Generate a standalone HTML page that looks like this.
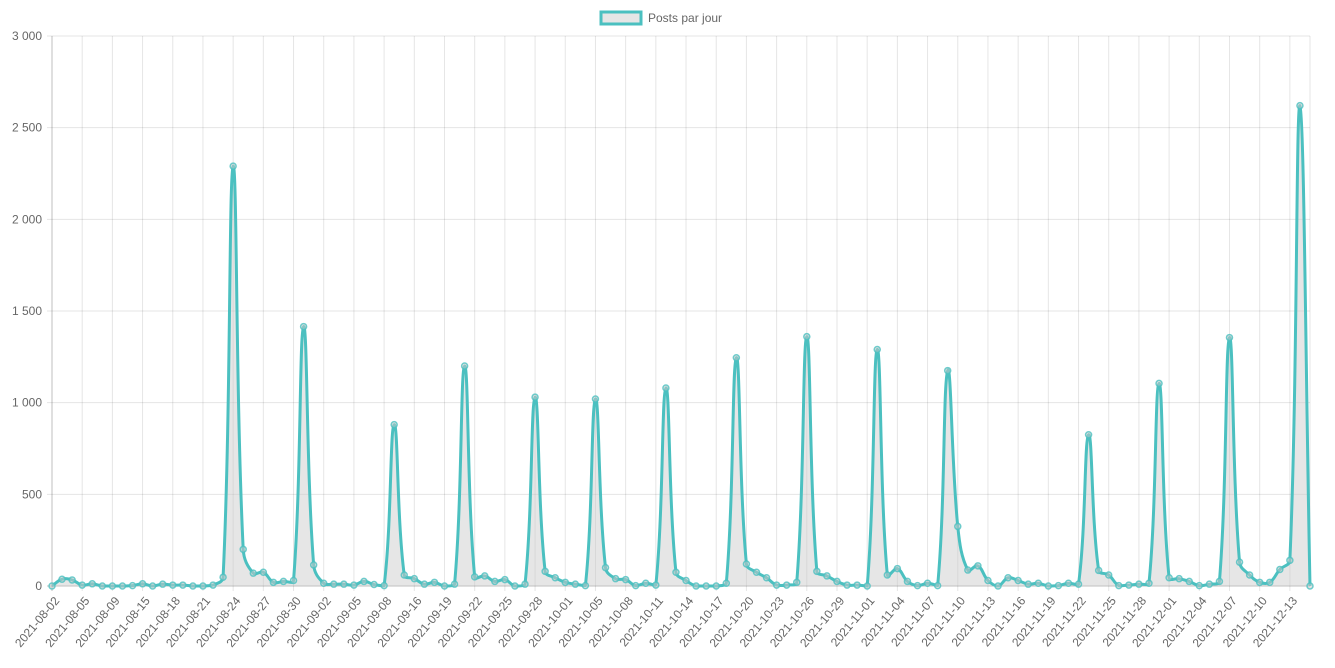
<!DOCTYPE html>
<html><head><meta charset="utf-8"><style>
html,body{margin:0;padding:0;background:#fff;}
svg{display:block;font-family:"Liberation Sans",Arial,sans-serif;}
</style></head><body>
<svg id="c" width="1335" height="668" xmlns="http://www.w3.org/2000/svg">
<rect x="601" y="12" width="40" height="12" fill="#e6e6e6" stroke="rgb(75,192,192)" stroke-width="3"/>
<text x="648" y="22" font-size="12" fill="#666">Posts par jour</text>
<g id="grid"></g>
<path id="area" fill="rgba(200,200,200,0.45)" stroke="none"/>
<path id="line" fill="none" stroke="rgb(75,192,192)" stroke-width="3"/>
<g id="pts"></g>
<g id="lbl"></g>
</svg>
<script>
var v=[0,37,33,5,12,0,0,0,2,12,0,10,5,5,0,0,5,48,2290,200,70,75,20,25,30,1415,115,15,10,10,5,25,8,2,880,60,40,10,20,0,10,1200,50,55,25,35,0,10,1030,80,45,20,10,2,1020,100,40,35,2,15,5,1080,75,30,0,0,0,15,1245,120,75,45,5,5,20,1360,80,55,25,5,5,0,1290,60,95,25,2,15,2,1175,325,87,110,30,0,45,30,10,15,0,2,15,10,825,85,60,2,5,10,15,1105,45,40,25,2,10,25,1355,130,60,20,20,90,140,2620,0];
var d=["08-02","08-05","08-09","08-15","08-18","08-21","08-24","08-27","08-30","09-02","09-05","09-08","09-16","09-19","09-22","09-25","09-28","10-01","10-05","10-08","10-11","10-14","10-17","10-20","10-23","10-26","10-29","11-01","11-04","11-07","11-10","11-13","11-16","11-19","11-22","11-25","11-28","12-01","12-04","12-07","12-10","12-13"];
var X0=52,DX=10.064,Y0=586,S=550/3000,ns="http://www.w3.org/2000/svg";
function el(t,a,p){var e=document.createElementNS(ns,t);for(var k in a)e.setAttribute(k,a[k]);p.appendChild(e);return e;}
var g=document.getElementById('grid'),l=document.getElementById('lbl');
for(var i=0;i<=6;i++){var y=Y0-i*500*S;el('line',{x1:X0-5,x2:1310,y1:y,y2:y,stroke:i==0?'rgba(0,0,0,0.25)':'rgba(0,0,0,0.1)'},g);
var t=el('text',{x:42,y:y+4,'text-anchor':'end','font-size':12,fill:'#666'},l);t.textContent=i==0?'0':(i*500).toString().replace(/(\d)(\d{3})$/,'$1 $2');}
for(var j=0;j<42;j++){var x=X0+j*3*DX;el('line',{x1:x,x2:x,y1:36,y2:Y0+5,stroke:j==0?'rgba(0,0,0,0.25)':'rgba(0,0,0,0.1)'},g);
var ax=x+8,ay=601;
var t=el('text',{x:ax,y:ay,'text-anchor':'end','font-size':12,fill:'#666',transform:'rotate(-50 '+ax+' '+ay+')'},l);t.textContent='2021-'+d[j];}
el('line',{x1:1310,x2:1310,y1:36,y2:Y0,stroke:'rgba(0,0,0,0.1)'},g);
var P=v.map(function(a,i){return [X0+i*DX,Y0-a*S];});
var p='M'+P[0][0]+','+P[0][1],T=0.4;
function cp(i){var a=P[Math.max(i-1,0)],b=P[i],c=P[Math.min(i+1,P.length-1)];
var d01=Math.hypot(b[0]-a[0],b[1]-a[1]),d12=Math.hypot(c[0]-b[0],c[1]-b[1]);var s=d01+d12||1;var fa=T*d01/s,fb=T*d12/s;
return [[b[0]-fa*(c[0]-a[0]),b[1]-fa*(c[1]-a[1])],[b[0]+fb*(c[0]-a[0]),b[1]+fb*(c[1]-a[1])]];}
var C=P.map(function(_,i){return cp(i);});
function clampY(y){return Math.min(Y0,Math.max(36,y));}
for(var i=1;i<P.length;i++){var c1=C[i-1][1],c2=C[i][0];p+=' C'+c1[0]+','+clampY(c1[1])+' '+c2[0]+','+clampY(c2[1])+' '+P[i][0]+','+P[i][1];}
document.getElementById('line').setAttribute('d',p);
document.getElementById('area').setAttribute('d',p+' L'+P[P.length-1][0]+','+Y0+' L'+X0+','+Y0+'Z');
var pt=document.getElementById('pts');
P.forEach(function(q){el('circle',{cx:q[0],cy:q[1],r:3,fill:'rgba(200,200,200,0.5)',stroke:'rgba(75,192,192,0.8)','stroke-width':1.5},pt);});
</script>
</body></html>
